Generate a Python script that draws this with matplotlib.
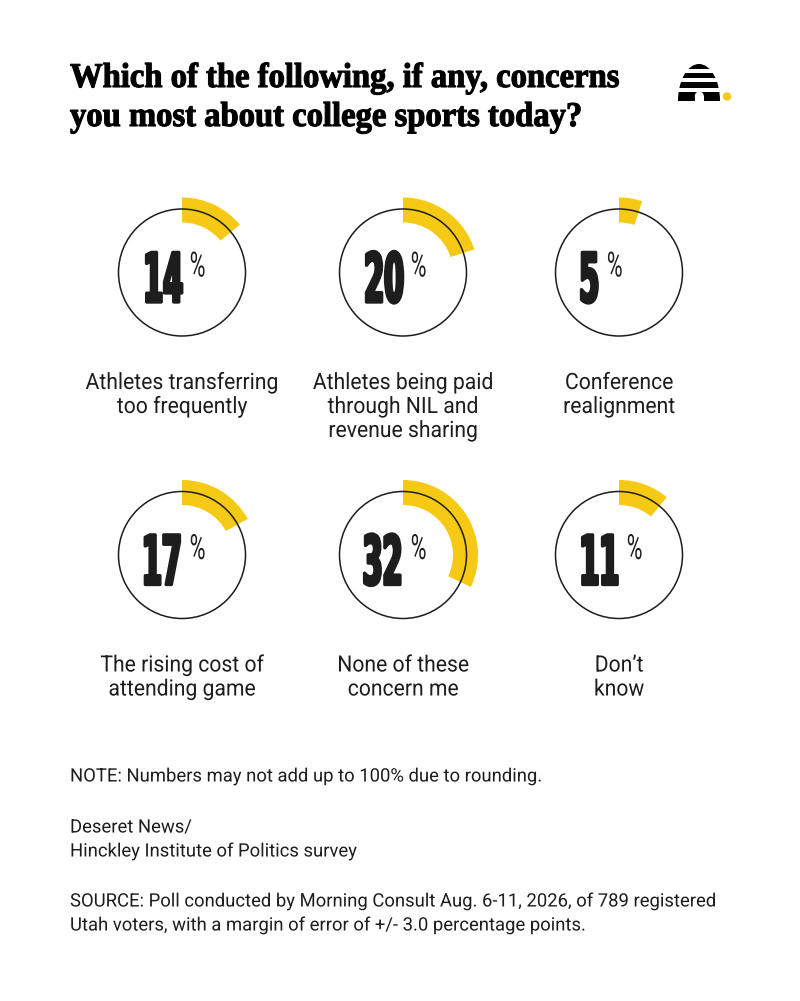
import matplotlib
matplotlib.use('Agg')
import matplotlib.pyplot as plt
from matplotlib.text import Text
from matplotlib.patches import Circle, Wedge, Ellipse, Rectangle
from matplotlib.patheffects import AbstractPathEffect
from matplotlib.transforms import Affine2D, Bbox

# data
values = [14, 20, 5, 17, 32, 11]
labels = [["Athletes transferring", "too frequently"],
          ["Athletes being paid", "through NIL and", "revenue sharing"],
          ["Conference", "realignment"],
          ["The rising cost of", "attending game"],
          ["None of these", "concern me"],
          ["Don\u2019t", "know"]]
title = ["Which of the following, if any, concerns",
         "you most about college sports today?"]
note = ["NOTE: Numbers may not add up to 100% due to rounding."]
credit = ["Deseret News/", "Hinckley Institute of Politics survey"]
source = ["SOURCE: Poll conducted by Morning Consult Aug. 6-11, 2026, of 789 registered",
          "Utah voters, with a margin of error of +/- 3.0 percentage points."]

YELLOW = '#F6C915'
INK = '#1d1d1d'


class Squeeze(AbstractPathEffect):
    """squeeze text horizontally (fonts here have no condensed cut)"""

    def __init__(self, sx, anchor='center', stroke=0.0):
        super().__init__()
        self.sx = sx
        self.anchor = anchor
        self.stroke = stroke

    def draw_path(self, renderer, gc, tpath, affine, rgbFace=None):
        ext = tpath.get_extents()
        if self.anchor == 'left':
            x0 = 0.0
        elif self.anchor == 'right':
            x0 = ext.x1
        else:
            x0 = (ext.x0 + ext.x1) / 2
        tr = Affine2D().translate(-x0, 0).scale(self.sx, 1).translate(x0, 0) + affine
        gc0 = renderer.new_gc()
        gc0.copy_properties(gc)
        if self.stroke and rgbFace is not None:
            gc0.set_linewidth(self.stroke)
            gc0.set_foreground(rgbFace)
            gc0.set_joinstyle('round')
        renderer.draw_path(gc0, tpath, tr, rgbFace)
        gc0.restore()


class NarrowText(Text):
    """text drawn squeezed, reporting the squeezed box"""

    def __init__(self, x, y, s, sx=1.0, stroke=0.0, **kw):
        super().__init__(x, y, s, **kw)
        self.sx = sx
        self.anchor = kw.get('ha', 'left')
        self.set_path_effects([Squeeze(sx, self.anchor, stroke)])

    def get_window_extent(self, renderer=None, dpi=None):
        bb = super().get_window_extent(renderer, dpi)
        w = bb.width * self.sx
        if self.anchor == 'left':
            x0 = bb.x0
        elif self.anchor == 'right':
            x0 = bb.x1 - w
        else:
            x0 = (bb.x0 + bb.x1 - w) / 2
        return Bbox([[x0, bb.y0], [x0 + w, bb.y1]])


def put(ax, x, y, s, **kw):
    t = NarrowText(x, y, s, **kw)
    ax.add_artist(t)
    return t


def lines(ax, x, y, rows, step, **kw):
    for k, row in enumerate(rows):
        put(ax, x, y + k * step, row, **kw)


fig = plt.figure(figsize=(8, 10.01), dpi=100)
fig.patch.set_facecolor('white')
ax = fig.add_axes([0, 0, 1, 1])
ax.set_xlim(0, 800)
ax.set_ylim(1001, 0)
ax.axis('off')
renderer = fig.canvas.get_renderer()

# title
lines(ax, 70, 87, title, 39, fontsize=25, family='Liberation Serif', weight='bold',
      color='black', ha='left', va='baseline', sx=0.94, stroke=0.8)

# logo (beehive + dot)
ax.add_patch(Ellipse((699, 101), 42, 74, fc='black', ec='none'))
ax.add_patch(Rectangle((672, 101), 56, 40, fc='white', ec='none'))
for gy in [69, 78, 88]:
    ax.add_patch(Rectangle((672, gy), 56, 3.6, fc='white', ec='none'))
ax.add_patch(Rectangle((694.8, 96), 9, 6, fc='white', ec='none'))
ax.add_patch(Circle((699.3, 96), 4.5, fc='white', ec='none'))
ax.add_patch(Circle((727, 96.5), 4.2, fc=YELLOW, ec='none'))

col_x = [182, 403, 619]
row_y = [272.5, 555]

for i, (v, lab) in enumerate(zip(values, labels)):
    cx = col_x[i % 3]
    cy = row_y[i // 3]
    ax.add_patch(Wedge((cx, cy), 75, -90, -90 + 3.6 * v, width=25,
                       fc=YELLOW, ec='none', zorder=2))
    ax.add_patch(Circle((cx, cy), 63.5, fill=False, ec=INK, lw=1.1, zorder=3))

    # number is right-aligned so its box stays clear of the % sign
    num = put(ax, 0, cy + 29.5, str(v), fontsize=49, family='DejaVu Sans',
              weight='bold', color=INK, ha='right', va='baseline', zorder=4,
              sx=0.42, stroke=2.4)
    w = num.get_window_extent(renderer).width
    num.set_x(cx - 37 + w)
    put(ax, cx - 37 + w + 5, cy + 4, '%', fontsize=25, family='Roboto',
        color=INK, ha='left', va='baseline', zorder=4, sx=0.62)

    lines(ax, cx, cy + 116.5, lab, 24, fontsize=16.2, family='Roboto', color=INK,
          ha='center', va='baseline', sx=0.94)

# footer
foot = dict(fontsize=13.3, family='Roboto', color=INK, ha='left', va='baseline', sx=1.0)
lines(ax, 70, 781.5, note, 24, **foot)
lines(ax, 70, 832.5, credit, 24, **foot)
lines(ax, 70, 906.5, source, 24, **foot)

fig.savefig('out.png', dpi=100, facecolor='white')
